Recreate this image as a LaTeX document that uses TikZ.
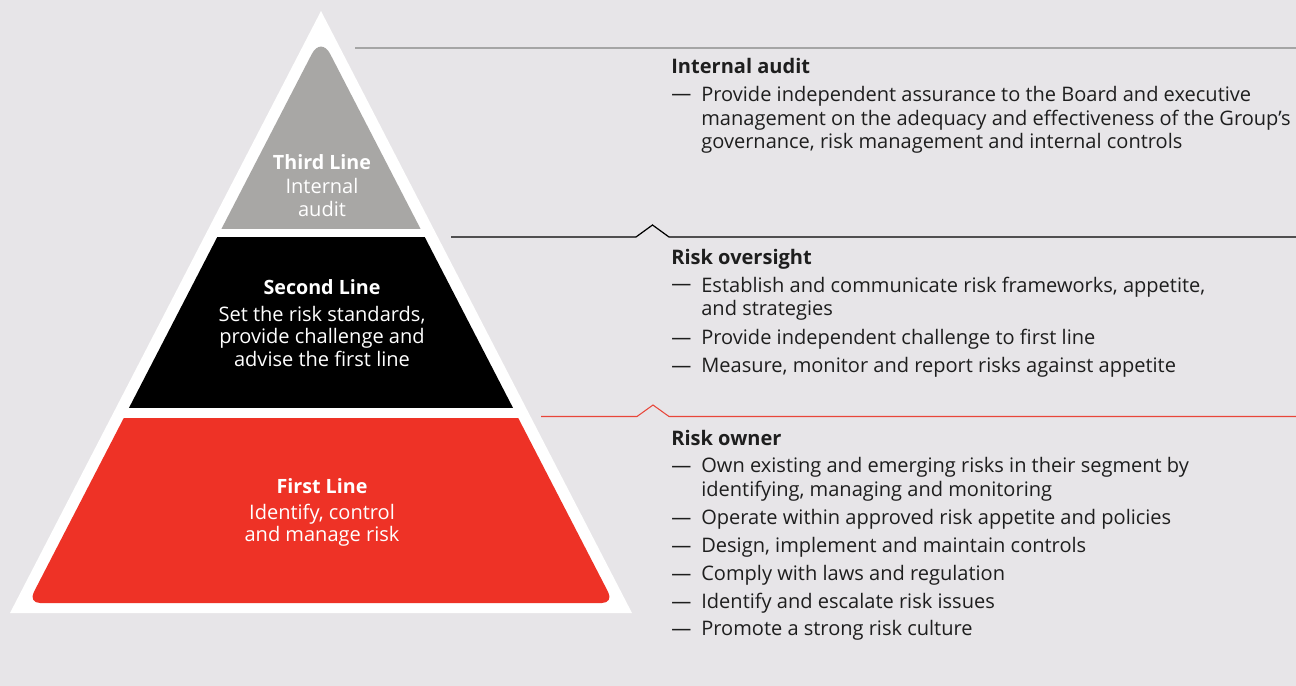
\documentclass[tikz,border=0pt]{standalone}
\usepackage{fontspec}
\setmainfont{Open Sans}
\usetikzlibrary{positioning}
\definecolor{bgGray}  {RGB}{231,229,232}
\definecolor{pyRed}   {RGB}{238,50,38}
\definecolor{pyGray}  {RGB}{168,167,165}
\definecolor{lnGray}  {RGB}{165,165,165}
\definecolor{lnRed}   {RGB}{232,70,58}
\definecolor{txDark}  {RGB}{30,30,30}
\begin{document}
\begin{tikzpicture}[x=0.02cm, y=-0.02cm,
    HEAD/.style={anchor=base west, inner sep=0pt, text=txDark, font=\fontsize{11.4}{13.6}\selectfont\bfseries},
    ITEM/.style={anchor=base west, inner sep=0pt, text=txDark, align=left, font=\fontsize{11.4}{13.6}\selectfont},
    PHEAD/.style={anchor=base, inner sep=0pt, text=white, font=\fontsize{11.2}{13.6}\selectfont\bfseries},
    PTEXT/.style={anchor=base, inner sep=0pt, text=white, align=center, font=\fontsize{11.4}{12.8}\selectfont}]
    % canvas
    \fill[bgGray] (0,0) rectangle (1296,686);
    \useasboundingbox (0,0) rectangle (1296,686);
    % pyramid
    \fill[white] (321,11) -- (632,613) -- (10,613) -- cycle;
    \begin{scope}
        \clip (28.2,603) [rounded corners=0.4cm] -- (321,36.2) [rounded corners=0.24cm] -- (613.8,603) -- cycle;
        \fill[pyGray] (0,0) rectangle (640,229);
        \fill[black] (0,237) rectangle (640,408);
        \fill[pyRed] (0,418) rectangle (640,640);
    \end{scope}
    % (base of a multi-line node = its last line)
    \node[PHEAD] (third) at (322,169.5) {Third Line};
    \node[PTEXT] (thirdtxt) at (322,216) {Internal\\audit};
    \node[PHEAD] (second) at (322,295) {Second Line};
    \node[PTEXT] (secondtxt) at (322,366) {Set the risk standards,\\provide challenge and\\advise the first line};
    \node[PHEAD] (first) at (322,493.5) {First Line};
    \node[PTEXT] (firsttxt) at (322,541.5) {Identify, control\\and manage risk};
    % dividers
    \draw[lnGray, line width=0.6pt] (355,48) -- (1296,48);
    \draw[black, line width=0.7pt] (451,237) -- (636,237) -- (652.5,225) -- (669,237) -- (1296,237);
    \draw[lnRed, line width=0.6pt] (541,416.5) -- (637,416.5) -- (653,405) -- (669,416.5) -- (1296,416.5);
    % internal audit
    \node[HEAD] (ia) at (671,73.5) {Internal audit};
    \node[ITEM] (ia1) at (701,149) {Provide independent assurance to the Board and executive\\management on the adequacy and effectiveness of the Group’s\\governance, risk management and internal controls};
    % risk oversight
    \node[HEAD] (ro) at (671,264.5) {Risk oversight};
    \node[ITEM] (ro1) at (701,316) {Establish and communicate risk frameworks, appetite,\\and strategies};
    \node[ITEM] (ro2) at (701,344) {Provide independent challenge to first line};
    \node[ITEM] (ro3) at (701,372) {Measure, monitor and report risks against appetite};
    % risk owner
    \node[HEAD] (rw) at (671,445.5) {Risk owner};
    \node[ITEM] (rw1) at (701,496) {Own existing and emerging risks in their segment by\\identifying, managing and monitoring};
    \node[ITEM] (rw2) at (701,524) {Operate within approved risk appetite and policies};
    \node[ITEM] (rw3) at (701,552) {Design, implement and maintain controls};
    \node[ITEM] (rw4) at (701,580) {Comply with laws and regulation};
    \node[ITEM] (rw5) at (701,608) {Identify and escalate risk issues};
    \node[ITEM] (rw6) at (701,635) {Promote a strong risk culture};
    % dashes on the first line of each item
    \foreach \y in {101,291,344,372,472,524,552,580,608,635}
        \node[ITEM] (d\y) at (671,\y) {---};
\end{tikzpicture}
\end{document}
